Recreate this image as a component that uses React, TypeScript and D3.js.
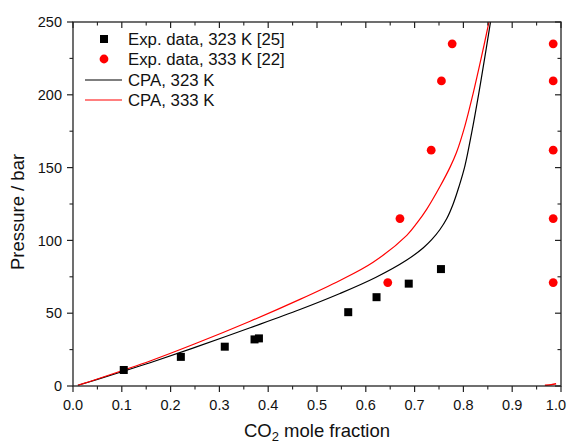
import React from "react";
import * as d3 from "d3";

const exp323X = [0.104, 0.221, 0.311, 0.372, 0.381, 0.564, 0.622, 0.688, 0.754];
const exp323P = [11, 20, 27, 32, 32.7, 50.7, 61, 70.3, 80.3];

const exp333X = [0.645, 0.670, 0.734, 0.755, 0.777, 0.984, 0.984, 0.984, 0.984, 0.984];
const exp333P = [71, 115, 162, 209.5, 235, 71, 115, 162, 209.5, 235];

const cpa323X = [0.01, 0.05, 0.1, 0.158, 0.25, 0.363, 0.465, 0.547, 0.62, 0.684, 0.718, 0.735, 0.752, 0.766, 0.779, 0.791, 0.803, 0.817, 0.831, 0.844, 0.856, 0.866];
const cpa323P = [0.5, 4.5, 9.8, 16, 26.5, 40, 52.5, 63.5, 74.5, 86.5, 95, 100.5, 107.5, 115, 125, 137, 151, 174, 200, 226, 251, 272];

const cpa333X = [0.01, 0.05, 0.1, 0.158, 0.25, 0.363, 0.465, 0.547, 0.615, 0.684, 0.705, 0.725, 0.752, 0.773, 0.786, 0.803, 0.82, 0.837, 0.853, 0.866];
const cpa333P = [0.5, 4.8, 10.5, 17.2, 29, 44.5, 59.5, 72.5, 85, 103.5, 112, 121.5, 137, 150.5, 160.5, 178.5, 201, 226, 251, 273];

const vap333X = [0.967, 0.98, 0.99];
const vap333P = [0.4, 0.9, 1.5];

const xTicks = [0, 0.1, 0.2, 0.3, 0.4, 0.5, 0.6, 0.7, 0.8, 0.9, 1.0];
const xMinor = [0.05, 0.15, 0.25, 0.35, 0.45, 0.55, 0.65, 0.75, 0.85, 0.95];
const yTicks = [0, 50, 100, 150, 200, 250];
const yMinor = [25, 75, 125, 175, 225];

const legendLabels = ["Exp. data, 323 K [25]", "Exp. data, 333 K [22]", "CPA, 323 K", "CPA, 333 K"];

const W = 567, H = 443;
const L = 73, R = 561, T = 22, B = 386;
const FONT = "'Liberation Sans', Arial, sans-serif";
const AX = "#222";

export default function App() {
  const x = d3.scaleLinear().domain([0, 1]).range([L, R]);
  const y = d3.scaleLinear().domain([0, 250]).range([B, T]);
  const line = d3
    .line<[number, number]>()
    .x((d) => x(d[0]))
    .y((d) => y(d[1]))
    .curve(d3.curveCatmullRom.alpha(0.5));
  const zip = (a: number[], b: number[]) => a.map((v, i) => [v, b[i]] as [number, number]);

  const p323 = line(zip(cpa323X, cpa323P)) || "";
  const p333 = line(zip(cpa333X, cpa333P)) || "";
  const pv = line(zip(vap333X, vap333P)) || "";

  return (
    <svg
      width={W}
      height={H}
      style={{ position: "absolute", left: 0, top: 0, background: "#fff" }}
      fontFamily={FONT}
    >
      <defs>
        <clipPath id="plot">
          <rect x={L} y={T} width={R - L} height={B - T} />
        </clipPath>
      </defs>
      <rect x={0} y={0} width={W} height={H} fill="#fff" />

      <g clipPath="url(#plot)">
        <path d={p323} fill="none" stroke="#000" strokeWidth={1.2} />
        <path d={p333} fill="none" stroke="#ff0000" strokeWidth={1.2} />
        <path d={pv} fill="none" stroke="#ff0000" strokeWidth={1.6} />
      </g>

      {exp323X.map((v, i) => (
        <rect key={"s" + i} x={x(v) - 4} y={y(exp323P[i]) - 4} width={8} height={8} fill="#000" />
      ))}
      {exp333X.map((v, i) => (
        <circle key={"c" + i} cx={x(v)} cy={y(exp333P[i])} r={4.4} fill="#ff0000" />
      ))}

      {/* frame */}
      <rect x={L} y={T} width={R - L} height={B - T} fill="none" stroke={AX} strokeWidth={1.3} />

      {/* x ticks */}
      {xTicks.map((t) => (
        <g key={"xt" + t}>
          <line x1={x(t)} x2={x(t)} y1={B} y2={B + 6} stroke={AX} strokeWidth={1.2} />
          <line x1={x(t)} x2={x(t)} y1={T} y2={T + 6} stroke={AX} strokeWidth={1.2} />
          <text
            x={t === 1 ? 566 : x(t)}
            y={410}
            textAnchor={t === 1 ? "end" : "middle"}
            fontSize={14.5}
            fill="#111"
          >
            {t.toFixed(1)}
          </text>
        </g>
      ))}
      {xMinor.map((t) => (
        <g key={"xm" + t}>
          <line x1={x(t)} x2={x(t)} y1={B} y2={B + 3.5} stroke={AX} strokeWidth={1.1} />
          <line x1={x(t)} x2={x(t)} y1={T} y2={T + 3.5} stroke={AX} strokeWidth={1.1} />
        </g>
      ))}

      {/* y ticks */}
      {yTicks.map((t) => (
        <g key={"yt" + t}>
          <line x1={L - 6} x2={L} y1={y(t)} y2={y(t)} stroke={AX} strokeWidth={1.2} />
          <line x1={R - 6} x2={R} y1={y(t)} y2={y(t)} stroke={AX} strokeWidth={1.2} />
          <text x={62} y={y(t)} dy="0.36em" textAnchor="end" fontSize={14.5} fill="#111">
            {t}
          </text>
        </g>
      ))}
      {yMinor.map((t) => (
        <g key={"ym" + t}>
          <line x1={L - 3.5} x2={L} y1={y(t)} y2={y(t)} stroke={AX} strokeWidth={1.1} />
          <line x1={R - 3.5} x2={R} y1={y(t)} y2={y(t)} stroke={AX} strokeWidth={1.1} />
        </g>
      ))}

      {/* axis titles */}
      <text x={317} y={437} textAnchor="middle" fontSize={18.5} fill="#111">
        CO
        <tspan fontSize={13} dy={3.5}>2</tspan>
        <tspan dy={-3.5}> mole fraction</tspan>
      </text>
      <text
        transform={`translate(24,212) rotate(-90)`}
        textAnchor="middle"
        fontSize={18.5}
        fill="#111"
      >
        Pressure / bar
      </text>

      {/* legend */}
      <rect x={100} y={35} width={8} height={8} fill="#000" />
      <circle cx={104} cy={59} r={4.4} fill="#ff0000" />
      <line x1={85} x2={122} y1={80} y2={80} stroke="#000" strokeWidth={1.2} />
      <line x1={85} x2={122} y1={100} y2={100} stroke="#ff0000" strokeWidth={1.2} />
      {legendLabels.map((s, i) => (
        <text key={s} x={128} y={39 + i * 20.3} dy="0.36em" fontSize={16.8} fill="#111">
          {s}
        </text>
      ))}
    </svg>
  );
}
